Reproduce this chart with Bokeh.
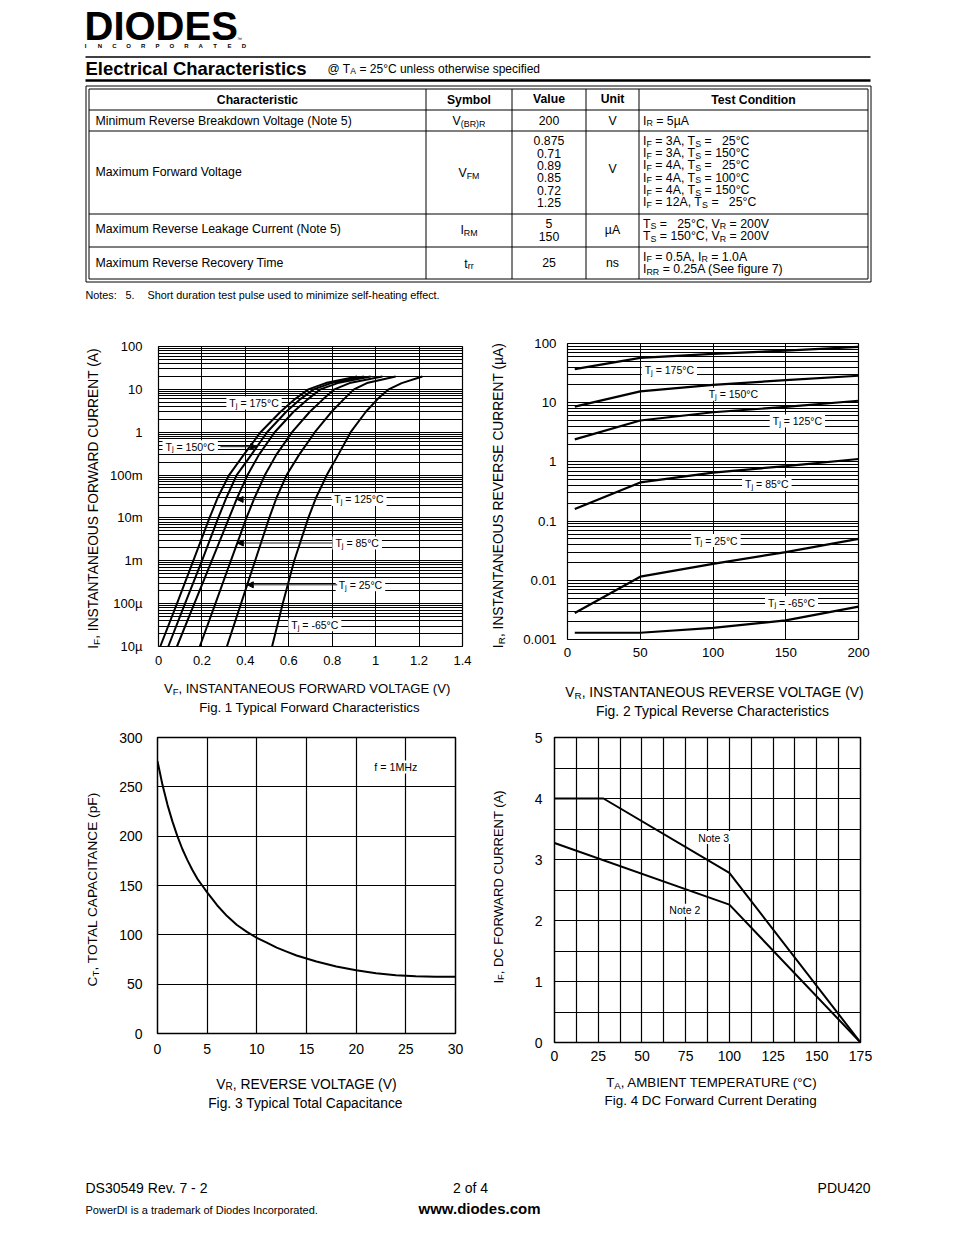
import json, math
from bokeh.plotting import figure
from bokeh.models import Range1d, FixedTicker, CustomJSTickFormatter, Arrow, NormalHead
from bokeh.layouts import column, row
from bokeh.embed import file_html
from bokeh.resources import INLINE
from bokeh.core.properties import value

FONT = "Liberation Sans"

# ---------------- table data ----------------
tbl_headers = ["Characteristic", "Symbol", "Value", "Unit", "Test Condition"]
tbl_characteristics = ["Minimum Reverse Breakdown Voltage (Note 5)", "Maximum Forward Voltage",
                       "Maximum Reverse Leakage Current (Note 5)", "Maximum Reverse Recovery Time"]
tbl_symbols = [[("V", "n"), ("(BR)R", "s")], [("V", "n"), ("FM", "s")],
               [("I", "n"), ("RM", "s")], [("t", "n"), ("rr", "s")]]
tbl_values = [["200"], ["0.875", "0.71", "0.89", "0.85", "0.72", "1.25"], ["5", "150"], ["25"]]
tbl_units = ["V", "V", "\u00b5A", "ns"]
tbl_conditions = [
    [[("I", "n"), ("R", "s"), (" = 5\u00b5A", "n")]],
    [[("I", "n"), ("F", "s"), (" = 3A, T", "n"), ("S", "s"), (" =", "n"), ("   25\u00b0C", "n")],
     [("I", "n"), ("F", "s"), (" = 3A, T", "n"), ("S", "s"), (" = 150\u00b0C", "n")],
     [("I", "n"), ("F", "s"), (" = 4A, T", "n"), ("S", "s"), (" =", "n"), ("   25\u00b0C", "n")],
     [("I", "n"), ("F", "s"), (" = 4A, T", "n"), ("S", "s"), (" = 100\u00b0C", "n")],
     [("I", "n"), ("F", "s"), (" = 4A, T", "n"), ("S", "s"), (" = 150\u00b0C", "n")],
     [("I", "n"), ("F", "s"), (" = 12A, T", "n"), ("S", "s"), (" =", "n"), ("   25\u00b0C", "n")]],
    [[("T", "n"), ("S", "s"), (" =", "n"), ("   25\u00b0C, V", "n"), ("R", "s"), (" = 200V", "n")],
     [("T", "n"), ("S", "s"), (" = 150\u00b0C, V", "n"), ("R", "s"), (" = 200V", "n")]],
    [[("I", "n"), ("F", "s"), (" = 0.5A, I", "n"), ("R", "s"), (" = 1.0A", "n")],
     [("I", "n"), ("RR", "s"), (" = 0.25A (See figure 7)", "n")]],
]

# ---------------- Fig. 1 data ----------------
fig1_current_a = [0.00001, 0.0001, 0.001, 0.01, 0.03, 0.1, 0.3, 1, 3, 6, 10, 14, 20]
fig1_vf_175 = [0.008, 0.085, 0.160, 0.235, 0.273, 0.325, 0.393, 0.470, 0.562, 0.630, 0.690, 0.770, 0.915]
fig1_vf_150 = [0.045, 0.122, 0.200, 0.275, 0.313, 0.360, 0.428, 0.500, 0.588, 0.655, 0.715, 0.795, 0.946]
fig1_vf_125 = [0.085, 0.165, 0.245, 0.325, 0.363, 0.410, 0.463, 0.535, 0.622, 0.690, 0.745, 0.825, 0.977]
fig1_vf_85 = [0.190, 0.262, 0.333, 0.405, 0.443, 0.490, 0.543, 0.615, 0.697, 0.760, 0.810, 0.880, 1.031]
fig1_vf_25 = [0.315, 0.380, 0.445, 0.510, 0.544, 0.590, 0.648, 0.720, 0.797, 0.855, 0.900, 0.960, 1.092]
fig1_vf_m65 = [0.523, 0.572, 0.625, 0.690, 0.726, 0.775, 0.828, 0.885, 0.955, 1.010, 1.060, 1.120, 1.215]
fig1_xticks = [0, 0.2, 0.4, 0.6, 0.8, 1.0, 1.2, 1.4]
fig1_ytick_values = [0.00001, 0.0001, 0.001, 0.01, 0.1, 1, 10, 100]
fig1_ytick_labels = ["10\u00b5", "100\u00b5", "1m", "10m", "100m", "1", "10", "100"]
fig1_label_temps = ["175\u00b0C", "150\u00b0C", "125\u00b0C", "85\u00b0C", "25\u00b0C", "-65\u00b0C"]
fig1_label_v = [0.44, 0.146, 0.923, 0.915, 0.93, 0.72]
fig1_label_i = [4.8, 0.46, 0.027, 0.0026, 0.000275, 0.000032]
fig1_arrow_from_v = [None, 0.285, 0.80, 0.80, 0.823, None]
fig1_arrow_to_v = [None, 0.452, 0.362, 0.363, 0.409, None]

# ---------------- Fig. 2 data ----------------
fig2_vr = [5, 50, 100, 150, 200]
fig2_ir_175 = [37, 57, 67, 76, 88]
fig2_ir_150 = [8.6, 15.5, 20, 24, 28.5]
fig2_ir_125 = [2.4, 5.0, 6.9, 8.5, 10.8]
fig2_ir_85 = [0.16, 0.45, 0.66, 0.85, 1.12]
fig2_ir_25 = [0.0028, 0.0115, 0.019, 0.030, 0.050]
fig2_ir_m65 = [0.0013, 0.0013, 0.00157, 0.0021, 0.0036]
fig2_xticks = [0, 50, 100, 150, 200]
fig2_ytick_values = [0.001, 0.01, 0.1, 1, 10, 100]
fig2_ytick_labels = ["0.001", "0.01", "0.1", "1", "10", "100"]
fig2_label_temps = ["175\u00b0C", "150\u00b0C", "125\u00b0C", "85\u00b0C", "25\u00b0C", "-65\u00b0C"]
fig2_label_v = [70, 114, 158, 137, 102, 154]
fig2_label_i = [36, 13.9, 4.9, 0.42, 0.047, 0.0042]

# ---------------- Fig. 3 data ----------------
fig3_vr = [0, 0.25, 0.5, 1, 1.5, 2, 2.5, 3, 3.5, 4, 4.5, 5, 6, 7, 8, 9, 10, 11, 12, 13, 14, 16, 18, 20, 22, 24, 26, 28, 30]
fig3_ct = [276, 264, 252, 232, 215, 200, 187, 176, 166, 157, 150, 143, 130, 119, 110, 103, 97, 92, 87, 83,
           79, 73, 68, 64, 61, 59, 58, 57.5, 57.5]
fig3_xticks = [0, 5, 10, 15, 20, 25, 30]
fig3_yticks = [0, 50, 100, 150, 200, 250, 300]

# ---------------- Fig. 4 data ----------------
fig4_note3_t = [0, 28, 100, 175]
fig4_note3_i = [4.0, 4.0, 2.78, 0]
fig4_note2_t = [0, 100, 175]
fig4_note2_i = [3.27, 2.26, 0]
fig4_xticks = [0, 25, 50, 75, 100, 125, 150, 175]
fig4_yticks = [0, 1, 2, 3, 4, 5]
fig4_labels = ["Note 3", "Note 2"]
fig4_label_t = [91, 74.5]
fig4_label_i = [3.36, 2.17]

# ---------------- text helpers ----------------
AW = {' ': 278, '!': 278, '"': 355, '#': 556, '$': 556, '%': 889, '&': 667, "'": 191, '(': 333, ')': 333,
      '*': 389, '+': 584, ',': 278, '-': 333, '.': 278, '/': 278, ':': 278, ';': 278, '<': 584, '=': 584,
      '>': 584, '?': 556, '@': 1015, '\u00b0': 400, '\u00b5': 577}
for c in '0123456789':
    AW[c] = 556
AW.update(dict(zip('ABCDEFGHIJKLMNOPQRSTUVWXYZ',
                   [667, 667, 722, 722, 667, 611, 778, 722, 278, 500, 667, 556, 833, 722, 778, 667, 778,
                    722, 667, 611, 722, 667, 944, 667, 667, 611])))
AW.update(dict(zip('abcdefghijklmnopqrstuvwxyz',
                   [556, 556, 500, 556, 556, 278, 556, 556, 222, 222, 500, 222, 833, 556, 556, 556, 556,
                    333, 500, 278, 556, 500, 722, 500, 500, 500])))

SUB_SCALE = 0.72
SUB_SHIFT = 0.22


def tw(s, fs):
    return sum(AW.get(c, 556) for c in s) * fs / 1000.0


def lay(segs, fs):
    out, cur = [], 0.0
    for t, k in segs:
        size = fs if k == "n" else fs * SUB_SCALE
        dy = 0.0 if k == "n" else fs * SUB_SHIFT
        lead = len(t) - len(t.lstrip(" "))
        s = t.strip(" ")
        if s:
            out.append((s, cur + tw(" " * lead, size), dy, size))
        cur += tw(t, size)
    return out, cur


def put(p, x, y, s, fs, align="left", bold=False, baseline="middle", angle=0.0, xo=0.0, yo=0.0):
    p.text(x=[x], y=[y], text=[s], text_font=value(FONT), text_font_size="%.2fpx" % fs,
           text_font_style="bold" if bold else "normal", text_align=align, text_baseline=baseline,
           text_color="black", angle=angle, x_offset=xo, y_offset=yo)


def rich(p, x, y, segs, fs, align="left", bold=False):
    if isinstance(segs, str):
        segs = [(segs, "n")]
    if len(segs) == 1 and segs[0][1] == "n" and segs[0][0] == segs[0][0].strip(" "):
        put(p, x, y, segs[0][0], fs, align=align, bold=bold)
        return
    items, total = lay(segs, fs)
    x0 = x - total / 2 if align == "center" else (x - total if align == "right" else x)
    for s, dx, dy, size in items:
        put(p, x0 + dx, y + dy, s, size, bold=bold)


def vrich(p, cx, cy, segs, fs):
    items, total = lay(segs, fs)
    ys = cy + total / 2
    for s, dx, dy, size in items:
        put(p, cx + dy, ys - dx, s, size, angle=math.pi / 2)


def chart_label(p, x, y, segs, fs, box=True):
    items, total = lay(segs, fs)
    if box:
        p.rect(x=[x], y=[y], width=total + 6, height=13, width_units="screen", height_units="screen",
               fill_color="white", line_color=None)
    for s, dx, dy, size in items:
        put(p, x, y, s, size, xo=-total / 2 + dx, yo=dy)


def no_align(p):
    try:
        p.frame_align = False
    except Exception:
        pass


def page_fig(x0, x1, y0, y1):
    p = figure(width=x1 - x0, height=y1 - y0, x_range=Range1d(x0, x1), y_range=Range1d(y1, y0),
               x_axis_type=None, y_axis_type=None, output_backend="svg", toolbar_location=None,
               tools="", title_location=None, min_border_left=0, min_border_right=0,
               min_border_top=0, min_border_bottom=0)
    p.outline_line_color = None
    p.background_fill_color = "white"
    p.border_fill_color = "white"
    no_align(p)
    return p


def chart(w, h, xr, yr, bl, br, bt, bb, tick_fs, xstand, ystand, ylog=False, outline_w=1.2, grid_w=1.0):
    p = figure(width=w, height=h, x_range=xr, y_range=yr, y_axis_type="log" if ylog else "linear",
               output_backend="svg", toolbar_location=None, tools="", title_location=None,
               min_border_left=bl, min_border_right=br, min_border_top=bt, min_border_bottom=bb)
    p.outline_line_color = "black"
    p.outline_line_width = outline_w
    p.background_fill_color = "white"
    p.border_fill_color = "white"
    no_align(p)
    for ax in p.axis:
        ax.axis_line_color = None
        ax.major_tick_line_color = None
        ax.minor_tick_line_color = None
        ax.major_tick_out = 0
        ax.major_tick_in = 0
        ax.minor_tick_out = 0
        ax.minor_tick_in = 0
        ax.major_label_text_font = FONT
        ax.major_label_text_font_size = "%.1fpx" % tick_fs
        ax.major_label_text_color = "black"
    p.xaxis.major_label_standoff = xstand
    p.yaxis.major_label_standoff = ystand
    for g in p.grid:
        g.grid_line_color = "black"
        g.grid_line_width = grid_w
        g.grid_line_alpha = 1
    return p


def log_minors(lo, hi):
    return [k * 10.0 ** n for n in range(lo, hi) for k in range(2, 10)]


def label_formatter(vals, labels):
    m = {str(int(round(math.log10(v)))): lab for v, lab in zip(vals, labels)}
    return CustomJSTickFormatter(code="const m = %s; return m[String(Math.round(Math.log10(tick)))];" % json.dumps(m))


W_PAGE = 953

# ================= header =================
hdr = page_fig(0, W_PAGE, 0, 330)
put(hdr, 84, 25.5, "DIODES", 40, bold=True)
for i, ch in enumerate("INCORPORATED"):
    put(hdr, 85 + i * 14.4, 45.5, ch, 6, align="center", bold=True)
put(hdr, 239, 38, "\u2122", 5, align="center")
hdr.segment(x0=[85, 85], y0=[56.5, 80], x1=[870, 870], y1=[56.5, 80], line_color="black",
            line_width=[1.5, 2.5])
put(hdr, 85, 68, "Electrical Characteristics", 18.5, bold=True)
rich(hdr, 327, 68, [("@ T", "n"), ("A", "s"), (" = 25\u00b0C unless otherwise specified", "n")], 12)

# table frame
LO, LI, RI, RO = 85.5, 88.5, 867.5, 870.5
TO, TI, BI, BO = 85.5, 88.5, 278.5, 281.5
row_lines = [109.5, 130.5, 213.5, 246.5]
col_lines = [425.5, 511.5, 585.5, 638.5]
sx0, sy0, sx1, sy1 = [], [], [], []
for (a, b, c, d) in [(LO, TO, RO, TO), (LO, BO, RO, BO), (LO, TO, LO, BO), (RO, TO, RO, BO),
                     (LI, TI, RI, TI), (LI, BI, RI, BI), (LI, TI, LI, BI), (RI, TI, RI, BI)]:
    sx0.append(a); sy0.append(b); sx1.append(c); sy1.append(d)
for yv in row_lines:
    sx0.append(LI); sy0.append(yv); sx1.append(RI); sy1.append(yv)
for xv in col_lines:
    sx0.append(xv); sy0.append(TI); sx1.append(xv); sy1.append(BI)
hdr.segment(x0=sx0, y0=sy0, x1=sx1, y1=sy1, line_color="black", line_width=1)

col_centers = [257, 468.5, 548.5, 612, 753]
hdr_ys = [99, 99, 98, 98, 99]
for t, cx, cy in zip(tbl_headers, col_centers, hdr_ys):
    put(hdr, cx, cy, t, 12.2, align="center", bold=True)

FS_T = 12.3
char_y = [120, 171, 228.5, 262]
sym_y = [120.5, 172.5, 229.5, 263]
unit_y = [120, 168, 229.5, 262.5]
val_ys = [[120], [140.3, 152.6, 164.9, 177.2, 189.5, 201.8], [223, 235.5], [262]]
cond_ys = [[120], [140.3, 152.6, 164.9, 177.2, 189.5, 201.8], [223, 235.5], [256, 268.5]]
for r in range(4):
    put(hdr, 95, char_y[r], tbl_characteristics[r], FS_T)
    rich(hdr, 468.5, sym_y[r], tbl_symbols[r], FS_T, align="center")
    for v, yy in zip(tbl_values[r], val_ys[r]):
        put(hdr, 548.5, yy, v, FS_T, align="center")
    put(hdr, 612, unit_y[r], tbl_units[r], FS_T, align="center")
    for segs, yy in zip(tbl_conditions[r], cond_ys[r]):
        rich(hdr, 642.5, yy, segs, FS_T)

put(hdr, 85, 294, "Notes:", 10.8)
put(hdr, 125, 294, "5.", 10.8)
put(hdr, 147, 294, "Short duration test pulse used to minimize self-heating effect.", 10.8)

# ================= Fig. 1 =================
p1 = chart(372, 346, Range1d(0, 1.4), Range1d(1e-5, 100), 53, 15, 16, 30, 13, 9, 16, ylog=True)
p1.xaxis.ticker = FixedTicker(ticks=fig1_xticks)
p1.xaxis.formatter = CustomJSTickFormatter(code="return tick.toFixed(1).replace('.0', '');")
p1.yaxis.ticker = FixedTicker(ticks=fig1_ytick_values, minor_ticks=log_minors(-5, 2))
p1.yaxis.formatter = label_formatter(fig1_ytick_values, fig1_ytick_labels)
p1.ygrid.minor_grid_line_color = "black"
p1.ygrid.minor_grid_line_width = 1
fig1_curves = [fig1_vf_175, fig1_vf_150, fig1_vf_125, fig1_vf_85, fig1_vf_25, fig1_vf_m65]
for temp, lv, li in zip(fig1_label_temps, fig1_label_v, fig1_label_i):
    items, total = lay([("T", "n"), ("j", "s"), (" = " + temp, "n")], 10.5)
    p1.rect(x=[lv], y=[li], width=total + 6, height=13, width_units="screen", height_units="screen",
            fill_color="white", line_color=None)
for vf in fig1_curves:
    p1.line(vf, fig1_current_a, line_color="black", line_width=2)
for temp, lv, li, a0, a1 in zip(fig1_label_temps, fig1_label_v, fig1_label_i, fig1_arrow_from_v, fig1_arrow_to_v):
    chart_label(p1, lv, li, [("T", "n"), ("j", "s"), (" = " + temp, "n")], 10.5, box=False)
    if a0 is not None:
        p1.add_layout(Arrow(end=NormalHead(size=6, fill_color="black", line_color="black"),
                            x_start=a0, y_start=li, x_end=a1, y_end=li,
                            line_color="#222222", line_width=1))

# ================= Fig. 2 =================
p2 = chart(W_PAGE - 515, 346, Range1d(0, 200), Range1d(0.001, 100), 52, W_PAGE - 858, 13, 37, 13.3, 8, 11, ylog=True)
p2.xaxis.ticker = FixedTicker(ticks=fig2_xticks)
p2.yaxis.ticker = FixedTicker(ticks=fig2_ytick_values, minor_ticks=log_minors(-3, 2))
p2.yaxis.formatter = label_formatter(fig2_ytick_values, fig2_ytick_labels)
p2.ygrid.minor_grid_line_color = "black"
p2.ygrid.minor_grid_line_width = 1
for temp, lv, li in zip(fig2_label_temps, fig2_label_v, fig2_label_i):
    chart_label(p2, lv, li, [("T", "n"), ("j", "s"), (" = " + temp, "n")], 10.5, box=True)
for ir in [fig2_ir_175, fig2_ir_150, fig2_ir_125, fig2_ir_85, fig2_ir_25, fig2_ir_m65]:
    p2.line(fig2_vr, ir, line_color="black", line_width=2.2)

# ================= Fig. 3 =================
p3 = chart(372, 346, Range1d(0, 30), Range1d(0, 300), 52, 22, 15, 35, 14, 10, 15, outline_w=1.5, grid_w=1.2)
p3.xaxis.ticker = FixedTicker(ticks=fig3_xticks)
p3.yaxis.ticker = FixedTicker(ticks=fig3_yticks)
chart_label(p3, 24, 270, [("f = 1MHz", "n")], 10.7, box=True)
p3.line(fig3_vr, fig3_ct, line_color="black", line_width=2)

# ================= Fig. 4 =================
p4 = chart(W_PAGE - 510, 346, Range1d(0, 175), Range1d(0, 5), 44, W_PAGE - 860, 15, 26, 14, 8, 12, outline_w=1.5, grid_w=1.2)
p4.xaxis.ticker = FixedTicker(ticks=fig4_xticks, minor_ticks=[12.5 + 25 * k for k in range(7)])
p4.yaxis.ticker = FixedTicker(ticks=fig4_yticks, minor_ticks=[0.5 + k for k in range(5)])
for g in p4.grid:
    g.minor_grid_line_color = "black"
    g.minor_grid_line_width = 1.2
for lab, lt, li in zip(fig4_labels, fig4_label_t, fig4_label_i):
    chart_label(p4, lt, li, [(lab, "n")], 10.5, box=True)
p4.line(fig4_note3_t, fig4_note3_i, line_color="black", line_width=2)
p4.line(fig4_note2_t, fig4_note2_i, line_color="black", line_width=2)

# ================= axis titles / captions =================
yl1 = page_fig(0, 105, 330, 676)
vrich(yl1, 93, 496.5, [("I", "n"), ("F", "s"), (", INSTANTANEOUS FORWARD CURRENT (A)", "n")], 13.8)
yl2 = page_fig(477, 515, 330, 676)
vrich(yl2, 498, 494, [("I", "n"), ("R", "s"), (", INSTANTANEOUS REVERSE CURRENT (\u00b5A)", "n")], 13.8)
yl3 = page_fig(0, 105, 722, 1068)
vrich(yl3, 92, 887, [("C", "n"), ("T", "s"), (", TOTAL CAPACITANCE (pF)", "n")], 13.7)
yl4 = page_fig(477, 510, 722, 1068)
vrich(yl4, 498, 886, [("I", "n"), ("F", "s"), (", DC FORWARD CURRENT (A)", "n")], 13.0)

cap1 = page_fig(0, W_PAGE, 676, 722)
rich(cap1, 309, 688, [("V", "n"), ("F", "s"), (", INSTANTANEOUS FORWARD VOLTAGE (V)", "n")], 13.1, align="center")
put(cap1, 309, 707, "Fig. 1 Typical Forward Characteristics", 13.2, align="center")
rich(cap1, 716, 691.5, [("V", "n"), ("R", "s"), (", INSTANTANEOUS REVERSE VOLTAGE (V)", "n")], 13.8, align="center")
put(cap1, 714, 710, "Fig. 2  Typical Reverse Characteristics", 13.9, align="center")

cap2 = page_fig(0, W_PAGE, 1068, 1120)
rich(cap2, 307, 1083, [("V", "n"), ("R", "s"), (", REVERSE VOLTAGE (V)", "n")], 13.9, align="center")
put(cap2, 307, 1103, "Fig. 3  Typical Total Capacitance", 13.8, align="center")
rich(cap2, 712, 1082, [("T", "n"), ("A", "s"), (", AMBIENT TEMPERATURE (\u00b0C)", "n")], 13.3, align="center")
put(cap2, 712, 1100, "Fig. 4  DC Forward Current Derating", 13.4, align="center")

# ================= footer =================
ftr = page_fig(0, W_PAGE, 1120, 1234)
put(ftr, 85, 1187, "DS30549 Rev. 7 - 2", 14)
put(ftr, 470, 1187, "2 of 4", 14, align="center")
put(ftr, 870, 1187, "PDU420", 14, align="right")
put(ftr, 85, 1209, "PowerDI is a trademark of Diodes Incorporated.", 11)
put(ftr, 479, 1208, "www.diodes.com", 15, align="center", bold=True)

layout = column(hdr, row(yl1, p1, yl2, p2), cap1, row(yl3, p3, yl4, p4), cap2, ftr)
open("out.html", "w").write(file_html(layout, INLINE))
